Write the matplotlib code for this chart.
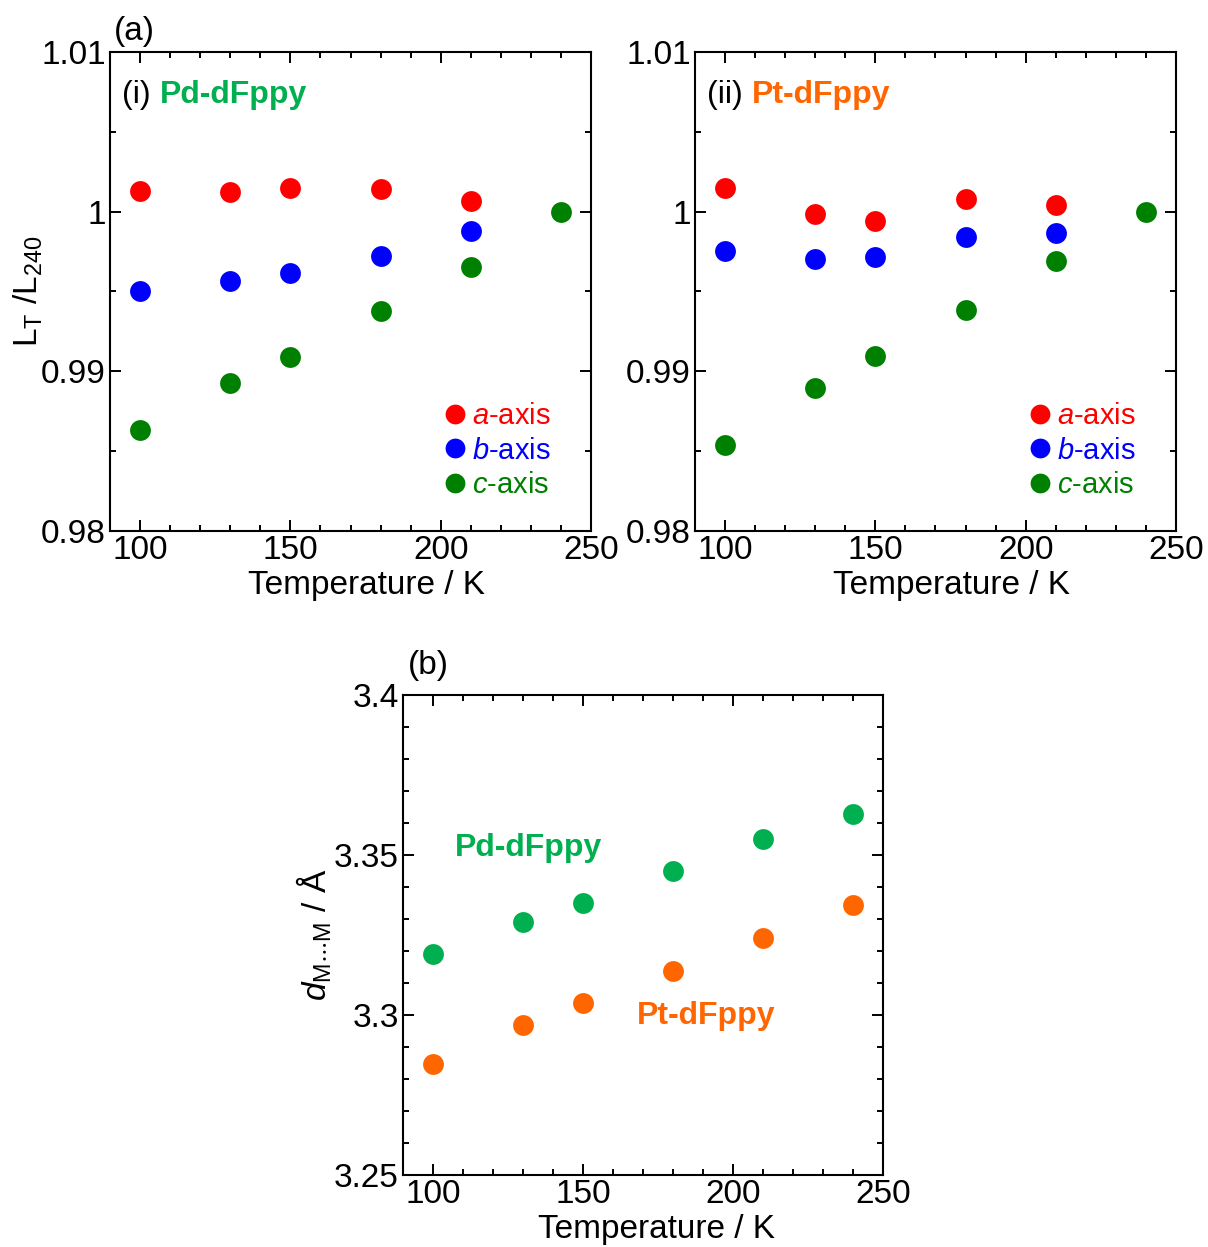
import matplotlib
matplotlib.use("Agg")
import matplotlib.pyplot as plt
from matplotlib.ticker import MultipleLocator
from matplotlib.lines import Line2D

plt.rcParams["font.family"] = ["Liberation Sans", "DejaVu Sans"]
plt.rcParams["mathtext.fontset"] = "custom"
plt.rcParams["mathtext.rm"] = "Liberation Sans"
plt.rcParams["mathtext.it"] = "Liberation Sans:italic"
plt.rcParams["mathtext.bf"] = "Liberation Sans:bold"

# temperatures
temps_ab = [100, 130, 150, 180, 210]
temps_c = [100, 130, 150, 180, 210, 240]

# panel (i) Pd-dFppy, L_T / L_240
pd_a = [1.00129, 1.00123, 1.00148, 1.00142, 1.00067]
pd_b = [0.99503, 0.99566, 0.99616, 0.99722, 0.99879]
pd_c = [0.98633, 0.98927, 0.99090, 0.99378, 0.99653, 1.0]

# panel (ii) Pt-dFppy, L_T / L_240
pt_a = [1.00148, 0.99985, 0.99942, 1.00079, 1.00042]
pt_b = [0.99754, 0.99704, 0.99716, 0.99841, 0.99866]
pt_c = [0.98539, 0.98896, 0.99096, 0.99384, 0.99691, 1.0]

# panel (b) metal-metal distance / Angstrom
temps_d = [100, 130, 150, 180, 210, 240]
d_pd = [3.3191, 3.3291, 3.3350, 3.3450, 3.3550, 3.3628]
d_pt = [3.2847, 3.2969, 3.3038, 3.3138, 3.3240, 3.3344]

RED = "#ff0000"
BLUE = "#0000ff"
DKGREEN = "#008000"
PD_GREEN = "#00b050"
PT_ORANGE = "#ff6600"

FS = 24      # ticks and axis labels
FS_NOTE = 23 # compound names
FS_LEG = 21
MS = 15


def style_axes(ax, ymajor, yminor, yfmt, xlab_x):
    ax.set_xlim(90, 250)
    ax.xaxis.set_major_locator(MultipleLocator(50))
    ax.xaxis.set_minor_locator(MultipleLocator(10))
    ax.yaxis.set_major_locator(MultipleLocator(ymajor))
    ax.yaxis.set_minor_locator(MultipleLocator(yminor))
    ax.yaxis.set_major_formatter(yfmt)
    ax.tick_params(which="both", direction="in", top=True, right=True,
                   width=1.4, labelsize=FS)
    ax.tick_params(which="major", length=8, pad=3)
    ax.tick_params(which="minor", length=4.5)
    for s in ax.spines.values():
        s.set_linewidth(1.5)
    ax.set_xlabel("Temperature / K", fontsize=FS, labelpad=3, x=xlab_x)


def fmt_ratio(v, pos):
    if abs(v - 1.0) < 1e-9:
        return "1"
    return f"{v:.2f}"


def fmt_dist(v, pos):
    s = f"{v:.2f}"
    return s[:-1] if s.endswith("0") else s


fig = plt.figure(figsize=(12.08, 12.47), dpi=100)

ax1 = fig.add_axes([0.0911, 0.5742, 0.3982, 0.3841])
ax2 = fig.add_axes([0.5753, 0.5742, 0.3982, 0.3841])
ax3 = fig.add_axes([0.3336, 0.0577, 0.3974, 0.3849])

panels = [
    (ax1, pd_a, pd_b, pd_c, "Pd-dFppy", PD_GREEN, "(i)"),
    (ax2, pt_a, pt_b, pt_c, "Pt-dFppy", PT_ORANGE, "(ii)"),
]
for ax, a, b, c, name, col, tag in panels:
    ax.plot(temps_ab, a, "o", color=RED, ms=MS, mec="none")
    ax.plot(temps_ab, b, "o", color=BLUE, ms=MS, mec="none")
    ax.plot(temps_c, c, "o", color=DKGREEN, ms=MS, mec="none")
    ax.set_ylim(0.98, 1.01)
    style_axes(ax, 0.01, 0.005, plt.FuncFormatter(fmt_ratio), 0.534)
    t = ax.text(0.025, 0.91, tag + " ", transform=ax.transAxes,
                fontsize=FS_NOTE, va="center", ha="left")
    fig.canvas.draw()
    bb = t.get_window_extent().transformed(ax.transAxes.inverted())
    ax.text(bb.x1, 0.91, name, transform=ax.transAxes, fontsize=FS_NOTE,
            fontweight="bold", color=col, va="center", ha="left")
    handles = [
        Line2D([], [], ls="none", marker="o", ms=MS * 0.95, color=RED, mec="none"),
        Line2D([], [], ls="none", marker="o", ms=MS * 0.95, color=BLUE, mec="none"),
        Line2D([], [], ls="none", marker="o", ms=MS * 0.95, color=DKGREEN, mec="none"),
    ]
    leg = ax.legend(handles, [r"$\it{a}$-axis", r"$\it{b}$-axis", r"$\it{c}$-axis"],
                    loc="lower right", bbox_to_anchor=(0.965, 0.018), frameon=False,
                    fontsize=FS_LEG, handlelength=0.6, handletextpad=0.3,
                    labelspacing=0.22, borderaxespad=0.4)
    for txt, cc in zip(leg.get_texts(), [RED, BLUE, DKGREEN]):
        txt.set_color(cc)

ax1.set_ylabel(r"L$_\mathrm{T}$ /L$_{240}$", fontsize=FS, labelpad=-3)
fig.text(0.094, 0.975, "(a)", fontsize=FS, ha="left", va="center")

# panel (b)
ax3.plot(temps_d, d_pd, "o", color=PD_GREEN, ms=MS, mec="none")
ax3.plot(temps_d, d_pt, "o", color=PT_ORANGE, ms=MS, mec="none")
ax3.set_ylim(3.25, 3.4)
style_axes(ax3, 0.05, 0.01, plt.FuncFormatter(fmt_dist), 0.529)
ax3.set_ylabel(r"$\it{d}$$_\mathrm{M\cdots M}$ / Å", fontsize=FS, labelpad=0)
ax3.text(0.108, 0.682, "Pd-dFppy", transform=ax3.transAxes, fontsize=FS_NOTE,
         fontweight="bold", color=PD_GREEN, va="center", ha="left")
ax3.text(0.488, 0.332, "Pt-dFppy", transform=ax3.transAxes, fontsize=FS_NOTE,
         fontweight="bold", color=PT_ORANGE, va="center", ha="left")
fig.text(0.338, 0.466, "(b)", fontsize=FS, ha="left", va="center")

fig.savefig("out.png", dpi=100)
